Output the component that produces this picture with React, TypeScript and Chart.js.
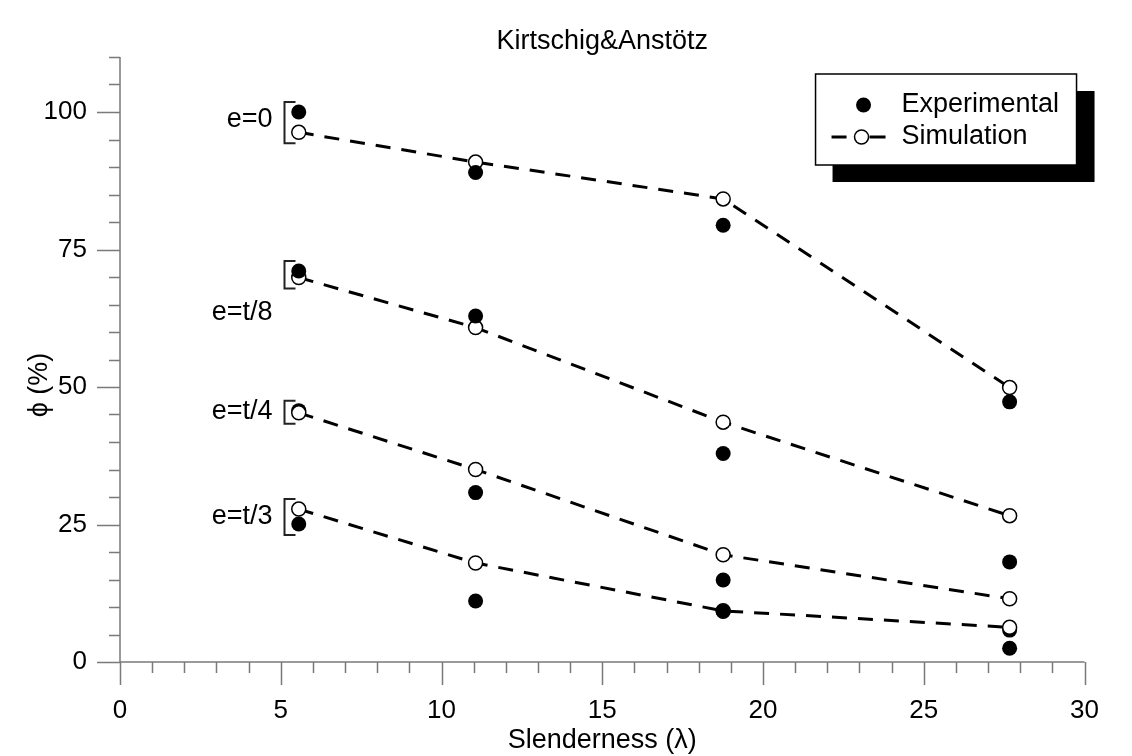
import React, { useEffect, useRef } from "react";
import { Chart, registerables } from "chart.js";

Chart.register(...registerables);

// ---- data ----
const xSlenderness = [5.56, 11.06, 18.76, 27.67];
const simE0 = [96.3, 90.9, 84.2, 49.9];
const expE0 = [100.0, 89.0, 79.4, 47.3];
const simT8 = [69.9, 60.8, 43.6, 26.6];
const expT8 = [71.1, 62.9, 37.9, 18.2];
const simT4 = [45.3, 35.0, 19.5, 11.5];
const expT4 = [45.7, 30.8, 14.9, 5.8];
const simT3 = [27.8, 18.0, 9.3, 6.3];
const expT3 = [25.1, 11.1, 9.2, 2.5];
const curveLabels = ["e=0", "e=t/8", "e=t/4", "e=t/3"];
const curveLabelY = [98.7, 63.6, 45.5, 26.4];
const xTicks = [0, 5, 10, 15, 20, 25, 30];
const yTicks = [0, 25, 50, 75, 100];
const chartTitle = "Kirtschig&Anstötz";
const xTitle = "Slenderness (λ)";
const yTitle = "ϕ (%)";
const legendLabels = ["Experimental", "Simulation"];

const FONT = '"Liberation Sans", Arial, sans-serif';

const toPts = (ys: number[]) => xSlenderness.map((x, i) => ({ x, y: ys[i] }));

function simSet(ys: number[]) {
  return {
    data: toPts(ys),
    showLine: true,
    borderColor: "#000",
    borderWidth: 3,
    borderDash: [15, 11],
    pointRadius: 7,
    pointBackgroundColor: "#fff",
    pointBorderColor: "#000",
    pointBorderWidth: 1.5,
  };
}
function expSet(ys: number[]) {
  return {
    data: toPts(ys),
    showLine: false,
    pointRadius: 7.5,
    pointBackgroundColor: "#000",
    pointBorderColor: "#000",
    pointBorderWidth: 0,
  };
}

const decorPlugin = {
  id: "decor",
  beforeDatasetsDraw(chart: any) {
    const { ctx, chartArea } = chart;
    const { left, right, top, bottom } = chartArea;
    const xs = chart.scales.x;
    const ys = chart.scales.y;
    ctx.save();
    ctx.strokeStyle = "#7a7a7a";
    ctx.lineWidth = 1.5;
    ctx.beginPath();
    ctx.moveTo(left, top);
    ctx.lineTo(left, bottom);
    ctx.moveTo(left, bottom);
    ctx.lineTo(right, bottom);
    for (let v = ys.min; v <= ys.max + 1e-9; v += 5) {
      const py = Math.round(ys.getPixelForValue(v)) + 0.5;
      const len = v % 25 === 0 ? 23 : 11;
      ctx.moveTo(left - len, py);
      ctx.lineTo(left, py);
    }
    for (let v = xs.min; v <= xs.max + 1e-9; v += 1) {
      const px = Math.round(xs.getPixelForValue(v)) + 0.5;
      const len = v % 5 === 0 ? 23 : 11;
      ctx.moveTo(px, bottom);
      ctx.lineTo(px, bottom + len);
    }
    ctx.stroke();
    ctx.restore();
  },
  afterDatasetsDraw(chart: any) {
    const { ctx, chartArea } = chart;
    const { left, right, top, bottom } = chartArea;
    const xs = chart.scales.x;
    const ys = chart.scales.y;
    ctx.save();
    ctx.fillStyle = "#000";
    // title
    ctx.font = `27px ${FONT}`;
    ctx.textAlign = "center";
    ctx.textBaseline = "alphabetic";
    ctx.fillText(chartTitle, (left + right) / 2, 49);
    // x title
    ctx.fillText(xTitle, (left + right) / 2, 748);
    // y title
    ctx.save();
    ctx.translate(47, ys.getPixelForValue(50) - 2);
    ctx.rotate(-Math.PI / 2);
    ctx.fillText(yTitle, 0, 0);
    ctx.restore();

    // brackets + labels
    const pairs = [
      [expE0, simE0],
      [expT8, simT8],
      [expT4, simT4],
      [expT3, simT3],
    ];
    ctx.strokeStyle = "#222";
    ctx.lineWidth = 2;
    pairs.forEach(([e, s], i) => {
      const px = xs.getPixelForValue(xSlenderness[0]);
      const p1 = ys.getPixelForValue(e[0]);
      const p2 = ys.getPixelForValue(s[0]);
      const yT = Math.min(p1, p2) - 10;
      const yB = Math.max(p1, p2) + 11;
      const bx = Math.round(px - 15) + 0.5;
      ctx.beginPath();
      ctx.moveTo(bx + 11, yT);
      ctx.lineTo(bx, yT);
      ctx.lineTo(bx, yB);
      ctx.lineTo(bx + 11, yB);
      ctx.stroke();
      ctx.textAlign = "right";
      ctx.textBaseline = "middle";
      ctx.font = `27px ${FONT}`;
      ctx.fillText(curveLabels[i], bx - 12, ys.getPixelForValue(curveLabelY[i]));
    });

    // legend
    const bR = right - 8;
    const bT = top + 17;
    const bW = 261;
    const bH = 91;
    const bL = bR - bW;
    const off = 17;
    ctx.fillStyle = "#000";
    ctx.fillRect(bL + off, bT + off, bW + 1, bH);
    ctx.fillStyle = "#fff";
    ctx.fillRect(bL, bT, bW, bH);
    ctx.strokeStyle = "#000";
    ctx.lineWidth = 1.5;
    ctx.strokeRect(bL, bT, bW, bH);
    const r1 = bT + 31;
    const r2 = bT + 63;
    ctx.fillStyle = "#000";
    ctx.beginPath();
    ctx.arc(bL + 48, r1, 7.5, 0, Math.PI * 2);
    ctx.fill();
    ctx.lineWidth = 3;
    ctx.beginPath();
    ctx.moveTo(bL + 16, r2);
    ctx.lineTo(bL + 31, r2);
    ctx.moveTo(bL + 54, r2);
    ctx.lineTo(bL + 70, r2);
    ctx.stroke();
    ctx.beginPath();
    ctx.arc(bL + 46, r2, 7, 0, Math.PI * 2);
    ctx.fillStyle = "#fff";
    ctx.fill();
    ctx.lineWidth = 1.5;
    ctx.stroke();
    ctx.fillStyle = "#000";
    ctx.textAlign = "left";
    ctx.textBaseline = "middle";
    ctx.font = `27px ${FONT}`;
    ctx.fillText(legendLabels[0], bL + 86, r1);
    ctx.fillText(legendLabels[1], bL + 86, r2);
    ctx.restore();
  },
};

export default function App() {
  const ref = useRef<HTMLCanvasElement | null>(null);
  useEffect(() => {
    document.body.style.margin = "0";
    const canvas = ref.current!;
    const chart = new Chart(canvas, {
      type: "scatter",
      data: {
        datasets: [
          expSet(expE0),
          expSet(expT8),
          expSet(expT3),
          simSet(simT3),
          simSet(simT4),
          expSet(expT4),
          simSet(simE0),
          simSet(simT8),
        ] as any,
      },
      options: {
        responsive: false,
        animation: false,
        devicePixelRatio: 1,
        layout: { padding: { left: 0, top: 57, right: 46, bottom: 0 } },
        plugins: {
          legend: { display: false },
          tooltip: { enabled: false },
          title: { display: false },
        },
        scales: {
          x: {
            type: "linear",
            min: 0,
            max: 30,
            grid: { display: false, drawTicks: false },
            border: { display: false },
            afterFit: (s: any) => {
              s.height = 94;
            },
            afterBuildTicks: (s: any) => {
              s.ticks = xTicks.map((v) => ({ value: v }));
            },
            ticks: {
              color: "#000",
              font: { family: FONT, size: 26 },
              padding: 33,
              maxRotation: 0,
            },
          },
          y: {
            type: "linear",
            min: 0,
            max: 110,
            grid: { display: false, drawTicks: false },
            border: { display: false },
            afterFit: (s: any) => {
              s.width = 120;
            },
            afterBuildTicks: (s: any) => {
              s.ticks = yTicks.map((v) => ({ value: v }));
            },
            ticks: {
              color: "#000",
              font: { family: FONT, size: 26 },
              padding: 33,
            },
          },
        },
      },
      plugins: [decorPlugin],
    });
    return () => chart.destroy();
  }, []);
  return (
    <div style={{ width: 1132, height: 756, background: "#fff" }}>
      <canvas ref={ref} width={1132} height={756} style={{ display: "block", width: 1132, height: 756 }} />
    </div>
  );
}
